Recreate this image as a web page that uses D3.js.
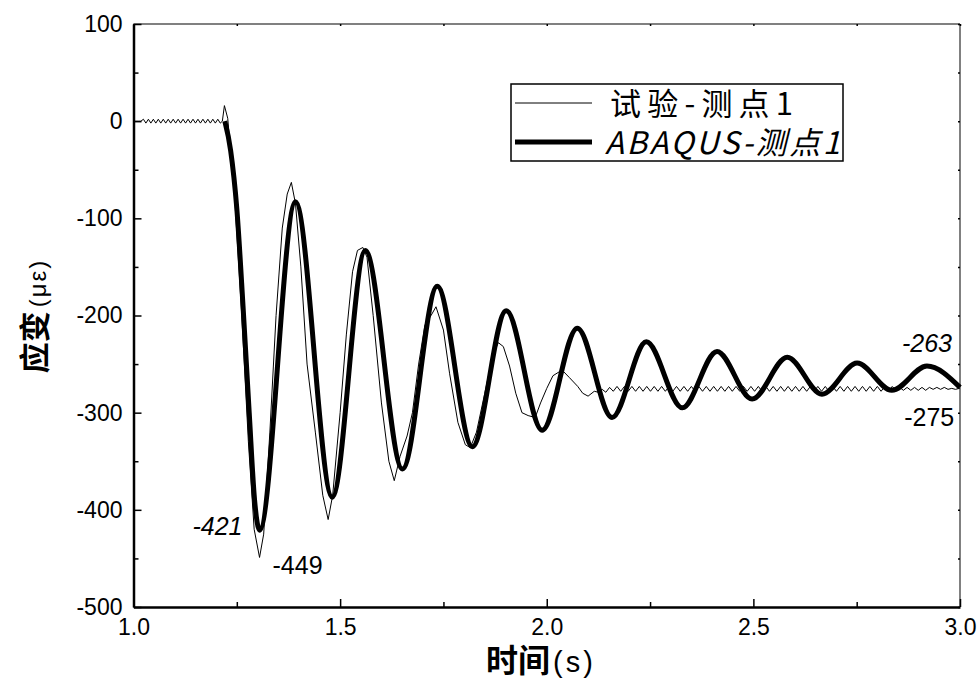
<!DOCTYPE html>
<html>
<head>
<meta charset="utf-8">
<script src="https://cdn.jsdelivr.net/npm/d3@7"></script>
<style>
body { margin: 0; background: #fff; }
</style>
</head>
<body>
<div id="chart"></div>
<script>
// test record: quiet zigzag before the impact (fixed step)
var headStart = 1.0;
var headStep = 0.006;
var headStrain = [0,0,0,0,
	2,-2,2,-2,2,-2,2,-2,2,-2,2,-2,2,-2,2,-2,
	2,-2,2,-2,2,-2,2,-2,2,-2,2,-2,2,-2,2,-2];

// test record: the impact and the decay
var expTime = [1.215,1.220,1.228,1.245,1.262,1.278,1.292,1.305,1.315,1.330,
	1.345,1.360,1.372,1.382,1.392,1.405,1.420,1.440,1.458,1.471,
	1.482,1.500,1.515,1.530,1.542,1.555,1.565,1.580,1.600,1.618,
	1.631,1.645,1.662,1.675,1.690,1.705,1.720,1.732,1.750,1.765,
	1.785,1.803,1.815,1.830,1.850,1.870,1.883,1.895,1.910,1.925,
	1.940,1.955,1.972,1.985,2.000,2.015,2.030,2.039,2.055,2.075,
	2.087,2.100,2.115];
var expStrain = [0,16,3,-80,-200,-330,-420,-449,-425,-320,
	-200,-110,-75,-63,-85,-150,-250,-320,-385,-410,
	-385,-300,-220,-155,-133,-130,-140,-200,-290,-350,
	-370,-345,-324,-300,-250,-210,-200,-191,-215,-260,
	-310,-333,-336,-320,-280,-240,-228,-232,-252,-280,
	-300,-303,-305,-290,-275,-262,-258,-257,-264,-273,
	-280,-283,-278];

// test record: settled zigzag (fixed step)
var tailStart = 2.125;
var tailStep = 0.009;
var tailStrain = [-279,-276,-279,-274,-278,-273,-278,-273,-278,-273,
	-278,-273,-278,-273,-278,-273,-278,-273,-278,-273,
	-278,-273,-278,-273,-278,-273,-278,-273,-278,-273,
	-278,-273,-278,-273,-278,-273,-278,-273,-278,-273,
	-278,-273,-278,-273,-278,-273,-278,-273,-278,-273,
	-278,-273,-278,-273,-278,-273,-278,-273,-278,-273,
	-278,-273,-278,-273,-278,-273,-278,-273,-278,-273,
	-278,-273,-278,-273,-278,-273,-278,-273,-278,-273,
	-277,-274,-277,-274,-277,-274,-277,-274,-277,-274,
	-276,-274,-276,-274,-276,-275,-276,-275];

// ABAQUS result
var abaqusTime = [1.221,1.235,1.250,1.265,1.280,1.293,1.305,1.392,1.481,1.561,
	1.651,1.735,1.820,1.902,1.989,2.074,2.158,2.241,2.328,2.412,
	2.497,2.582,2.666,2.751,2.835,2.920,3.000];
var abaqusStrain = [0,-30,-90,-190,-300,-390,-421,-83,-387,-133,
	-358,-170,-335,-195,-318,-213,-305,-227,-295,-237,
	-286,-243,-281,-249,-277,-252,-274];

var xTicks = [1.0, 1.5, 2.0, 2.5, 3.0];
var xMinor = [1.25, 1.75, 2.25, 2.75];
var yTicks = [100, 0, -100, -200, -300, -400, -500];
var yMinor = [50, -50, -150, -250, -350, -450];
var seriesNames = ["试验-测点1", "ABAQUS-测点1"];

// value notes: label, the point it belongs to
var noteLabels = ["-421", "-449", "-263", "-275"];
var noteTime = [1.305, 1.305, 2.920, 2.940];
var noteStrain = [-421, -449, -252, -275];

var svgWidth = 980;
var svgHeight = 682;
var plotLeft = 133.5, plotRight = 960, plotTop = 24, plotBottom = 607;
var latin = "'Liberation Sans', Arial, sans-serif";
var cjk = "'Noto Sans CJK SC', sans-serif";

var svg = d3.select("#chart")
	.append("svg")
	.attr("width", svgWidth)
	.attr("height", svgHeight);

var x = d3.scaleLinear().domain([1.0, 3.0]).range([plotLeft, plotRight]);
var y = d3.scaleLinear().domain([-500, 100]).range([plotBottom, plotTop]);

// build the test series from its three parts
var expData = [];
headStrain.forEach(function(v, i){ expData.push([headStart + i * headStep, v]); });
expTime.forEach(function(t, i){ expData.push([t, expStrain[i]]); });
tailStrain.forEach(function(v, i){ expData.push([tailStart + i * tailStep, v]); });
expData.push([3.0, -275]);

var abaqusData = abaqusTime.map(function(t, i){ return [t, abaqusStrain[i]]; });

// frame: top and right in grey
svg.append("line")
	.attr("x1", plotLeft).attr("x2", plotRight).attr("y1", plotTop).attr("y2", plotTop)
	.attr("stroke", "#808080").attr("stroke-width", 2);
svg.append("line")
	.attr("x1", plotRight).attr("x2", plotRight).attr("y1", plotTop).attr("y2", plotBottom)
	.attr("stroke", "#808080").attr("stroke-width", 2);

svg.append("g")
	.attr("transform", "translate(" + plotRight + ",0)")
	.call(d3.axisRight(y).tickValues(yTicks.concat(yMinor)).tickSize(-2).tickFormat(""))
	.call(function(g){ g.select(".domain").remove(); });
svg.append("g")
	.attr("transform", "translate(0," + plotTop + ")")
	.call(d3.axisTop(x).tickValues(xTicks.concat(xMinor)).tickSize(-2).tickFormat(""))
	.call(function(g){ g.select(".domain").remove(); });

// lines
var line = d3.line()
	.x(function(d){ return x(d[0]); })
	.y(function(d){ return y(d[1]); });

svg.append("path")
	.datum(expData)
	.attr("d", line.curve(d3.curveLinear))
	.attr("fill", "none")
	.attr("stroke", "#000")
	.attr("stroke-width", 1);

svg.append("path")
	.datum(abaqusData)
	.attr("d", line.curve(d3.curveMonotoneX))
	.attr("fill", "none")
	.attr("stroke", "#000")
	.attr("stroke-width", 5)
	.attr("stroke-linejoin", "round");

// axes, ticks pointing inward
var yAxis = svg.append("g")
	.attr("transform", "translate(" + plotLeft + ",0)")
	.call(d3.axisLeft(y).tickValues(yTicks).tickSizeInner(-8).tickSizeOuter(0).tickPadding(11)
		.tickFormat(function(d){ return String(d); }));
svg.append("g")
	.attr("transform", "translate(" + plotLeft + ",0)")
	.call(d3.axisLeft(y).tickValues(yMinor).tickSizeInner(-5).tickSizeOuter(0).tickFormat(""))
	.call(function(g){ g.select(".domain").remove(); });

var xAxis = svg.append("g")
	.attr("transform", "translate(0," + plotBottom + ")")
	.call(d3.axisBottom(x).tickValues(xTicks).tickSizeInner(-8).tickSizeOuter(0).tickPadding(12)
		.tickFormat(function(d){ return d.toFixed(1); }));
svg.append("g")
	.attr("transform", "translate(0," + plotBottom + ")")
	.call(d3.axisBottom(x).tickValues(xMinor).tickSizeInner(-5).tickSizeOuter(0).tickFormat(""))
	.call(function(g){ g.select(".domain").remove(); });

svg.selectAll(".tick line").attr("stroke-width", 1.5);
[yAxis, xAxis].forEach(function(g){
	g.attr("font-family", latin).attr("font-size", 23);
	g.select(".domain").attr("stroke-width", 2.5);
});

// value notes
var noteDx = [-17, 13, 0, -6];
var noteDy = [5, 17, -14, 38];
var noteAnchor = ["end", "start", "middle", "middle"];
var noteItalic = [true, false, true, false];
svg.selectAll(".note")
	.data(noteLabels)
	.enter()
	.append("text")
	.attr("class", "note")
	.attr("x", function(d, i){ return x(noteTime[i]) + noteDx[i]; })
	.attr("y", function(d, i){ return y(noteStrain[i]) + noteDy[i]; })
	.attr("text-anchor", function(d, i){ return noteAnchor[i]; })
	.attr("font-style", function(d, i){ return noteItalic[i] ? "italic" : "normal"; })
	.attr("font-family", latin)
	.attr("font-size", 25)
	.text(function(d){ return d; });

// legend
var legend = svg.append("g").attr("transform", "translate(511,84)");
legend.append("rect")
	.attr("width", 332).attr("height", 77)
	.attr("fill", "#fff").attr("stroke", "#000").attr("stroke-width", 1.5);
var legendRows = legend.selectAll(".legend")
	.data(seriesNames)
	.enter()
	.append("g")
	.attr("class", "legend")
	.attr("transform", function(d, i){ return "translate(0," + (19 + i * 39) + ")"; });
legendRows.append("line")
	.attr("x1", 4).attr("x2", 81)
	.attr("stroke", "#000")
	.attr("stroke-width", function(d, i){ return i === 0 ? 1 : 5; });
legendRows.append("text")
	.attr("x", function(d, i){ return i === 0 ? 99 : 94; })
	.attr("y", 12)
	.attr("font-family", cjk)
	.attr("font-size", 31)
	.attr("font-style", function(d, i){ return i === 0 ? "normal" : "italic"; })
	.attr("textLength", function(d, i){ return i === 0 ? 183 : 235; })
	.attr("lengthAdjust", "spacing")
	.text(function(d){ return d; });

// axis titles
var xTitle = svg.append("text")
	.attr("x", 541).attr("y", 672)
	.attr("text-anchor", "middle");
xTitle.append("tspan")
	.attr("font-family", cjk).attr("font-weight", "bold").attr("font-size", 32)
	.text("时间");
xTitle.append("tspan")
	.attr("dx", 3)
	.attr("font-family", latin).attr("font-size", 29)
	.attr("letter-spacing", 3)
	.text("(s)");

var yTitle = svg.append("text")
	.attr("transform", "translate(46,316) rotate(-90)")
	.attr("text-anchor", "middle");
yTitle.append("tspan")
	.attr("font-family", cjk).attr("font-weight", "bold").attr("font-size", 31)
	.text("应变");
yTitle.append("tspan")
	.attr("dx", 4)
	.attr("font-family", latin).attr("font-size", 24)
	.attr("letter-spacing", 2)
	.text("(με)");
</script>
</body>
</html>
